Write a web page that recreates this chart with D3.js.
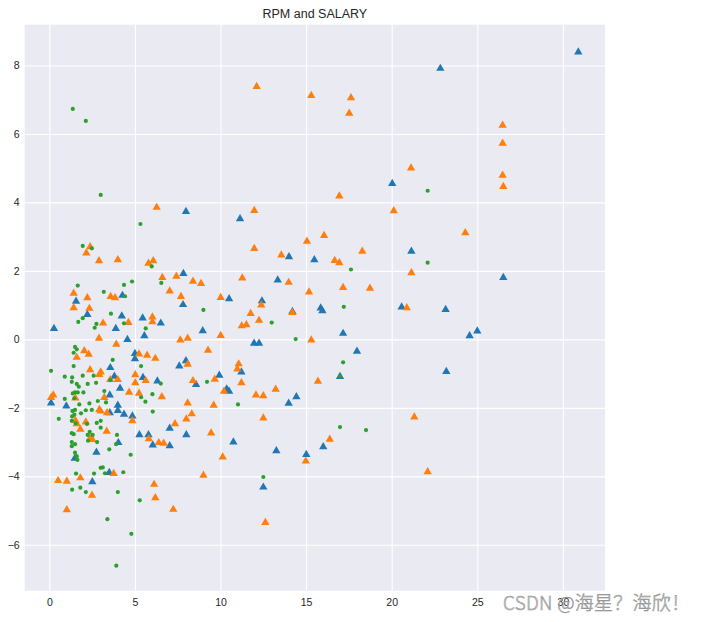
<!DOCTYPE html>
<html><head><meta charset="utf-8">
<script src="https://cdn.jsdelivr.net/npm/d3@7"></script>
<style>html,body{margin:0;padding:0;background:#fff;}svg{display:block;}</style>
</head><body>
<script>
const title = "RPM and SALARY";
const xTicks = [0, 5, 10, 15, 20, 25, 30];
const yTicks = [-6, -4, -2, 0, 2, 4, 6, 8];

const blue = [[7.98,3.75],[11.14,3.54],[20.03,4.57],[30.9,8.41],[22.84,7.93],[21.15,2.59],[26.52,1.82],[20.58,0.96],[23.15,0.89],[25.0,0.26],[24.55,0.12],[23.19,-0.92],[14.0,2.43],[15.48,2.34],[13.34,1.75],[10.5,1.2],[12.42,1.14],[14.2,0.83],[15.85,0.93],[15.95,0.85],[8.96,0.27],[17.16,0.19],[11.96,-0.1],[12.25,-0.1],[17.97,-0.33],[11.22,-0.94],[9.93,-1.03],[16.98,-1.07],[10.36,-1.43],[10.5,-1.5],[14.43,-1.66],[13.98,-1.85],[10.75,-2.98],[16.0,-3.12],[13.26,-3.24],[15.01,-3.35],[12.5,-4.3],[7.83,1.94],[4.27,1.3],[1.56,1.13],[7.81,1.03],[2.22,0.74],[4.23,0.7],[5.45,0.64],[6.51,0.49],[0.27,0.33],[3.88,0.33],[5.55,0.12],[4.56,0.01],[5.0,-0.4],[5.0,-0.55],[7.98,-0.61],[7.59,-0.76],[3.56,-0.81],[3.8,-1.06],[5.47,-1.1],[6.31,-1.2],[8.57,-1.3],[4.13,-1.41],[0.1,-1.84],[0.99,-1.93],[3.53,-1.61],[4.0,-1.91],[4.0,-2.06],[3.53,-2.13],[4.36,-2.17],[4.85,-2.22],[5.26,-2.77],[5.79,-2.77],[6.04,-3.07],[7.03,-2.58],[7.03,-3.09],[8.0,-2.77],[4.03,-3.0],[2.75,-3.28],[1.48,-3.46],[3.5,-3.87],[2.51,-4.14]];

const orange = [[6.27,3.87],[12.11,7.4],[15.3,7.14],[17.62,7.07],[17.52,6.62],[21.13,5.02],[16.94,4.2],[11.97,3.78],[20.12,3.77],[26.48,6.27],[26.48,5.74],[26.48,4.81],[26.52,4.48],[24.3,3.13],[21.15,1.96],[20.88,0.94],[21.32,-2.25],[22.1,-3.85],[16.05,3.05],[15.05,2.88],[11.97,2.67],[18.28,2.59],[13.55,2.48],[16.67,2.32],[16.94,2.25],[11.27,1.81],[13.98,1.68],[17.16,1.53],[18.73,1.51],[15.17,1.4],[8.86,1.65],[10.01,1.24],[12.38,1.02],[14.2,0.8],[11.76,0.77],[12.25,0.57],[11.24,0.41],[11.51,0.44],[10.01,0.13],[15.3,0.0],[9.27,-0.3],[11.06,-0.7],[10.98,-0.85],[9.66,-1.15],[11.22,-1.25],[15.69,-1.21],[10.2,-1.5],[13.22,-1.44],[12.07,-1.61],[12.5,-1.63],[9.6,-1.91],[12.5,-2.28],[9.45,-2.72],[16.38,-2.9],[14.98,-3.54],[10.13,-3.42],[9.0,-3.95],[12.62,-5.33],[2.38,2.72],[2.16,2.54],[2.9,2.31],[4.0,2.34],[5.79,2.24],[6.07,2.31],[6.6,1.82],[7.42,1.86],[8.39,1.71],[7.03,1.43],[1.42,1.36],[3.58,1.27],[3.84,1.23],[7.69,1.27],[2.22,1.23],[1.42,0.94],[2.34,0.92],[6.02,0.67],[6.02,0.53],[3.14,0.49],[4.62,0.51],[2.9,0.05],[3.91,-0.13],[7.65,0.0],[8.08,0.05],[2.04,-0.32],[2.3,-0.42],[5.24,-0.41],[5.71,-0.45],[1.6,-0.51],[6.19,-0.54],[8.08,-0.71],[2.38,-0.87],[3.0,-0.94],[2.92,-1.01],[5.02,-1.02],[3.56,-1.16],[4.0,-1.16],[5.02,-1.25],[5.63,-1.19],[8.39,-1.19],[4.66,-1.53],[5.24,-1.56],[3.21,-1.68],[6.57,-1.66],[0.23,-1.61],[0.1,-1.68],[1.52,-1.7],[1.52,-2.35],[1.6,-2.45],[1.81,-2.61],[2.13,-2.4],[2.92,-2.03],[3.0,-2.08],[3.37,-2.13],[3.35,-2.67],[2.42,-2.84],[2.51,-2.91],[4.85,-2.36],[5.81,-2.89],[6.39,-3.0],[6.68,-3.02],[7.34,-2.45],[8.08,-1.84],[8.32,-2.16],[8.0,-2.31],[3.76,-3.9],[0.51,-4.11],[1.02,-4.13],[1.81,-4.03],[2.49,-4.54],[6.12,-4.22],[6.19,-4.61],[7.24,-4.95],[1.02,-4.96]];

const green = [[1.37,6.73],[2.13,6.38],[3.0,4.22],[22.1,4.34],[22.1,2.24],[17.62,2.04],[9.0,0.86],[17.2,0.95],[12.99,0.49],[14.39,0.01],[17.16,-0.67],[9.21,-1.24],[16.98,-1.07],[11.02,-1.9],[16.98,-2.56],[18.5,-2.65],[12.5,-4.02],[5.32,3.37],[1.95,2.73],[2.48,2.66],[5.98,2.13],[4.83,1.69],[6.54,1.65],[4.36,1.59],[1.66,1.57],[3.18,1.39],[4.42,1.26],[3.6,0.75],[1.95,0.62],[1.69,0.51],[2.75,0.45],[4.36,0.47],[2.65,0.34],[5.63,0.32],[1.5,-0.22],[1.6,-0.29],[1.42,-0.39],[3.7,-0.6],[1.42,-0.78],[5.36,-0.78],[0.1,-0.92],[0.9,-1.09],[1.33,-1.11],[1.95,-1.06],[2.59,-1.06],[3.56,-1.19],[6.51,-1.29],[1.31,-1.24],[1.6,-1.3],[1.72,-1.38],[2.24,-1.3],[2.73,-1.27],[3.21,-1.51],[1.37,-1.58],[1.5,-1.55],[1.66,-1.55],[1.99,-1.55],[6.02,-1.6],[0.9,-1.74],[1.46,-1.72],[5.36,-1.69],[0.55,-2.32],[1.35,-2.09],[1.5,-2.06],[1.75,-1.9],[1.85,-2.16],[2.13,-2.07],[2.48,-2.06],[2.34,-1.87],[2.83,-1.8],[3.31,-1.84],[1.33,-2.25],[1.46,-2.2],[1.31,-2.38],[1.54,-2.45],[2.77,-2.44],[3.0,-2.38],[3.0,-2.58],[2.2,-2.47],[1.31,-2.74],[1.42,-2.77],[2.36,-2.7],[2.24,-2.79],[2.53,-2.79],[2.26,-2.96],[2.79,-3.0],[3.95,-2.79],[3.9,-3.06],[1.31,-3.0],[1.5,-3.06],[1.31,-3.12],[1.5,-3.31],[1.6,-3.41],[1.64,-3.52],[3.5,-3.21],[4.75,-3.37],[3.0,-3.75],[3.12,-3.74],[2.61,-3.92],[1.56,-3.92],[3.25,-3.91],[4.32,-3.88],[1.33,-4.39],[1.81,-4.33],[2.13,-4.46],[4.0,-4.46],[5.28,-4.7],[3.39,-5.25],[4.79,-5.68],[3.91,-6.61],[5.61,-1.82],[6.04,-2.11]];

const W = 702, H = 622;
const plot = {left: 24.7, right: 605, top: 24.7, bottom: 590.7};
const font = "'Liberation Sans', Arial, sans-serif";
const textColor = "#262626";

const svg = d3.select("body").append("svg").attr("width", W).attr("height", H);

const x = d3.scaleLinear().domain([-1.44, 32.46]).range([plot.left, plot.right]);
const y = d3.scaleLinear().domain([-7.34, 9.19]).range([plot.bottom, plot.top]);

svg.append("rect").attr("x", plot.left).attr("y", plot.top)
  .attr("width", plot.right - plot.left).attr("height", plot.bottom - plot.top)
  .attr("fill", "#eaeaf2");

const xAxis = svg.append("g").attr("transform", `translate(0,${plot.bottom})`)
  .call(d3.axisBottom(x).tickValues(xTicks).tickSize(-(plot.bottom - plot.top)).tickPadding(8).tickFormat(d3.format("d")));
const yAxis = svg.append("g").attr("transform", `translate(${plot.left},0)`)
  .call(d3.axisLeft(y).tickValues(yTicks).tickSize(-(plot.right - plot.left)).tickPadding(5).tickFormat(d => d < 0 ? "\u2212" + Math.abs(d) : String(d)));
[xAxis, yAxis].forEach(a => {
  a.select(".domain").remove();
  a.selectAll(".tick line").attr("stroke", "#ffffff").attr("stroke-width", 1.1);
  a.selectAll(".tick text").attr("fill", textColor).attr("font-family", font).attr("font-size", 10.5);
});

const tri = d3.symbol().type(d3.symbolTriangle).size(30);
const drawTri = (data, color) => svg.append("g").selectAll("path").data(data).join("path")
  .attr("d", tri)
  .attr("transform", d => `translate(${x(d[0])},${y(d[1]) + 0.6})`)
  .attr("fill", color);
drawTri(blue, "#1f77b4");
drawTri(orange, "#ff7f0e");
svg.append("g").selectAll("circle").data(green).join("circle")
  .attr("cx", d => x(d[0])).attr("cy", d => y(d[1])).attr("r", 2.1)
  .attr("fill", "#2ca02c");

svg.append("text").attr("x", (plot.left + plot.right) / 2).attr("y", 18)
  .attr("text-anchor", "middle").attr("font-family", font).attr("font-size", 12.5)
  .attr("fill", textColor).text(title);

svg.append("text").attr("x", 503).attr("y", 610).attr("text-anchor", "start")
  .attr("font-family", "'Noto Sans CJK SC', sans-serif").attr("font-size", 19)
  .attr("font-weight", 300)
  .attr("textLength", 187).attr("lengthAdjust", "spacing")
  .attr("fill", "#d4d4d4").attr("stroke", "#8c8c8c").attr("stroke-width", 0.5)
  .text("CSDN @海星？海欣！");
</script>
</body></html>
